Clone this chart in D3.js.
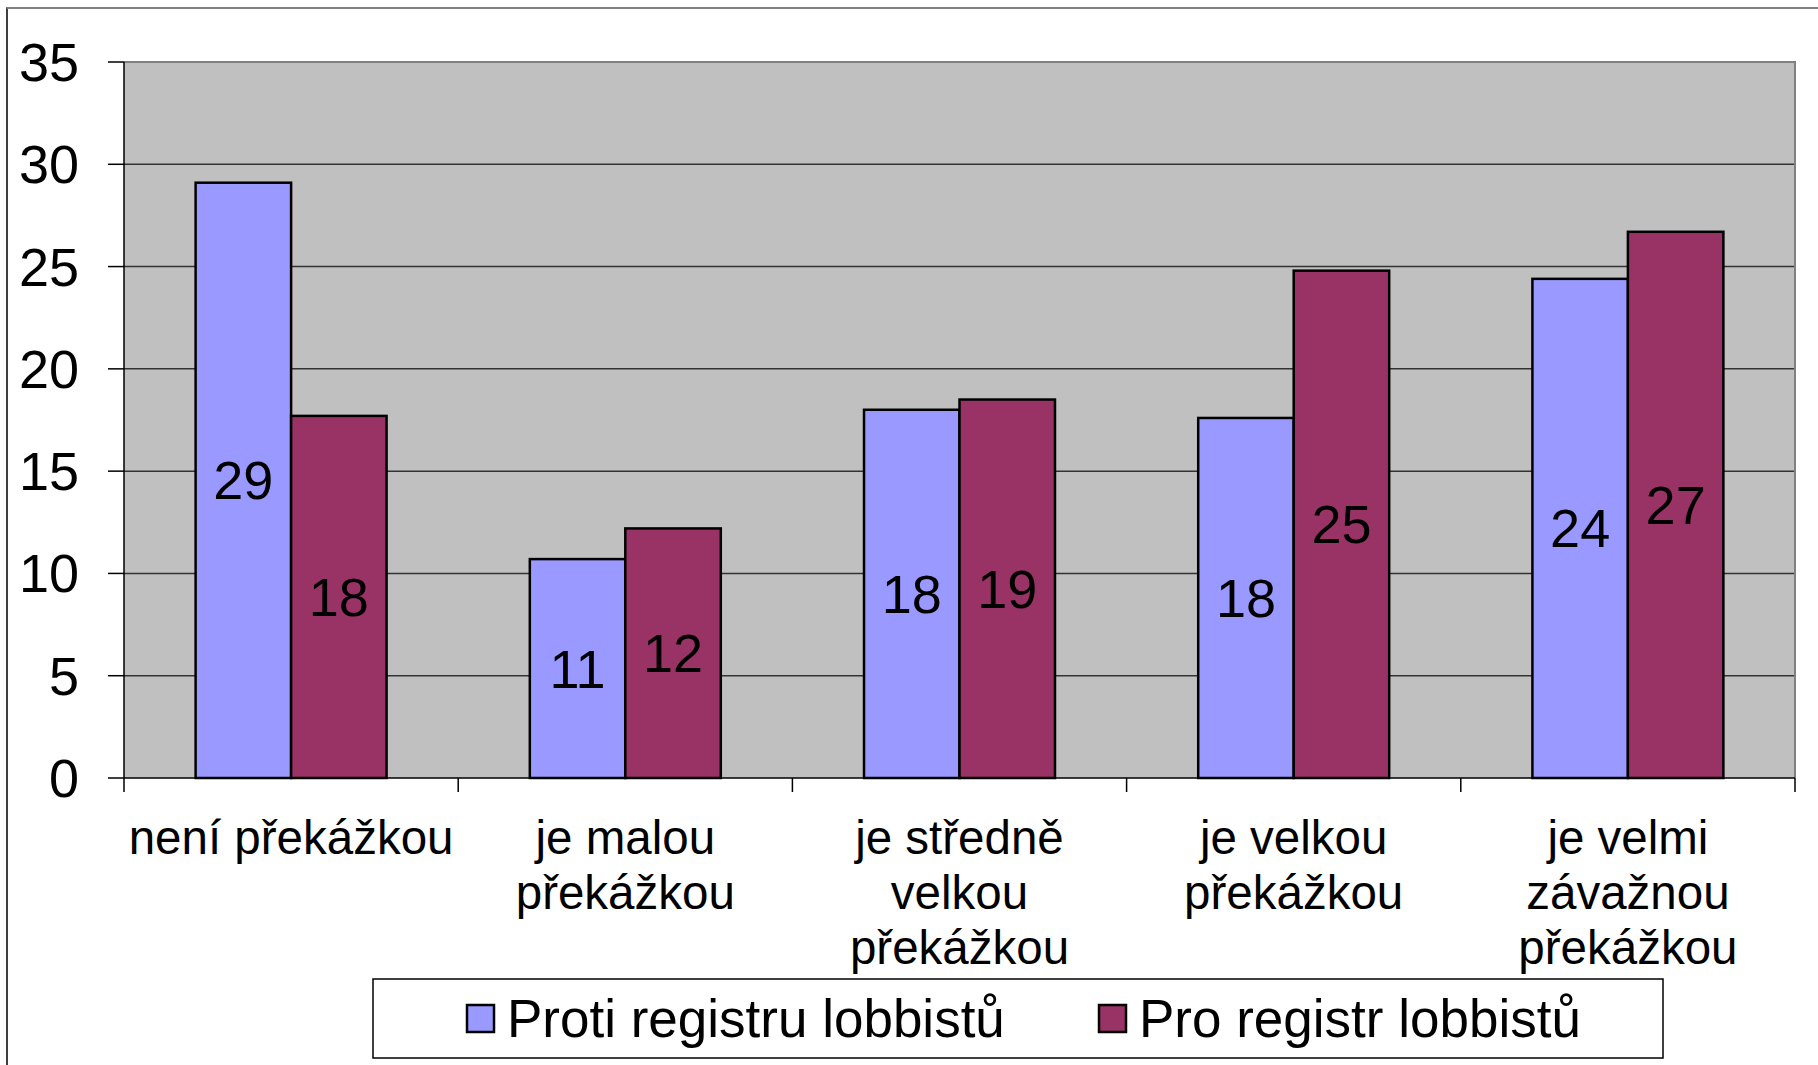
<!DOCTYPE html>
<html>
<head>
<meta charset="utf-8">
<script src="https://cdn.jsdelivr.net/npm/d3@7"></script>
<style>
  html, body { margin: 0; padding: 0; background: #fff; }
  svg { display: block; font-family: "Liberation Sans", Arial, sans-serif; }
</style>
</head>
<body>
<svg id="chart" width="1818" height="1065"></svg>
<script>
// ---- data ----
const categories = ["není překážkou", "je malou překážkou", "je středně velkou překážkou", "je velkou překážkou", "je velmi závažnou překážkou"];
const categoryLines = [
  ["není překážkou"],
  ["je malou", "překážkou"],
  ["je středně", "velkou", "překážkou"],
  ["je velkou", "překážkou"],
  ["je velmi", "závažnou", "překážkou"]
];
const seriesNames = ["Proti registru lobbistů", "Pro registr lobbistů"];
const protiValues = [29.1, 10.7, 18.0, 17.6, 24.4];
const proValues = [17.7, 12.2, 18.5, 24.8, 26.7];
const yTicks = [0, 5, 10, 15, 20, 25, 30, 35];
const seriesColors = ["#9999FF", "#993366"];

// ---- layout ----
const svg = d3.select("#chart");
const plot = { left: 124, right: 1795, top: 62, bottom: 778 };

const x0 = d3.scaleBand().domain(categories).range([plot.left, plot.right]).paddingInner(0).paddingOuter(0);
const x1 = d3.scaleBand().domain(seriesNames).range([0, x0.bandwidth()]).paddingInner(0).paddingOuter(0.75);
const y = d3.scaleLinear().domain([0, 35]).range([plot.bottom, plot.top]);
const color = d3.scaleOrdinal().domain(seriesNames).range(seriesColors);

// outer chart border (cropped on right/bottom)
svg.append("rect").attr("x", 7).attr("y", 8).attr("width", 1900).attr("height", 1200)
  .attr("fill", "none").attr("stroke", "#000").attr("stroke-width", 1.5);
svg.append("line").attr("x1", 7).attr("x2", 1818).attr("y1", 8).attr("y2", 8)
  .attr("stroke", "#808080").attr("stroke-width", 2);

// plot background
svg.append("rect").attr("x", plot.left).attr("y", plot.top)
  .attr("width", plot.right - plot.left).attr("height", plot.bottom - plot.top)
  .attr("fill", "#C0C0C0");

// gridlines
svg.append("g").selectAll("line").data(yTicks.filter(d => d > 0 && d < 35)).join("line")
  .attr("x1", plot.left).attr("x2", plot.right)
  .attr("y1", d => y(d)).attr("y2", d => y(d))
  .attr("stroke", "#333").attr("stroke-width", 1.5);

// plot border top/right
svg.append("path")
  .attr("d", `M${plot.left},${plot.top}H${plot.right}V${plot.bottom}`)
  .attr("fill", "none").attr("stroke", "#808080").attr("stroke-width", 2);

// bars
const rows = categories.map((c, i) => ({ cat: c, values: [protiValues[i], proValues[i]] }));
const groups = svg.append("g").selectAll("g").data(rows).join("g")
  .attr("transform", d => `translate(${x0(d.cat)},0)`);

groups.selectAll("rect").data(d => d.values.map((v, j) => ({ s: seriesNames[j], v }))).join("rect")
  .attr("x", d => x1(d.s))
  .attr("y", d => y(d.v))
  .attr("width", x1.bandwidth())
  .attr("height", d => y(0) - y(d.v))
  .attr("fill", d => color(d.s))
  .attr("stroke", "#000").attr("stroke-width", 2.5);

groups.selectAll("text").data(d => d.values.map((v, j) => ({ s: seriesNames[j], v }))).join("text")
  .attr("x", d => x1(d.s) + x1.bandwidth() / 2)
  .attr("y", d => (y(d.v) + y(0)) / 2)
  .attr("text-anchor", "middle")
  .attr("dominant-baseline", "central")
  .attr("font-size", 54)
  .attr("fill", "#000")
  .text(d => Math.round(d.v));

// y axis
const yAxis = svg.append("g").attr("transform", `translate(${plot.left},0)`);
yAxis.append("line").attr("x1", 0).attr("x2", 0).attr("y1", plot.top).attr("y2", plot.bottom)
  .attr("stroke", "#000").attr("stroke-width", 1.5);
yAxis.selectAll("line.tick").data(yTicks).join("line").attr("class", "tick")
  .attr("x1", -16).attr("x2", 0).attr("y1", d => y(d)).attr("y2", d => y(d))
  .attr("stroke", "#000").attr("stroke-width", 1.5);
yAxis.selectAll("text").data(yTicks).join("text")
  .attr("x", -45).attr("y", d => y(d))
  .attr("text-anchor", "end").attr("dominant-baseline", "central")
  .attr("font-size", 54).attr("fill", "#000")
  .text(d => d);

// x axis
const xAxis = svg.append("g");
xAxis.append("line").attr("x1", plot.left).attr("x2", plot.right).attr("y1", plot.bottom).attr("y2", plot.bottom)
  .attr("stroke", "#000").attr("stroke-width", 1.5);
const bounds = categories.map(c => x0(c)).concat([x0(categories[categories.length - 1]) + x0.bandwidth()]);
xAxis.selectAll("line.tick").data(bounds).join("line").attr("class", "tick")
  .attr("x1", d => d).attr("x2", d => d).attr("y1", plot.bottom).attr("y2", plot.bottom + 14)
  .attr("stroke", "#000").attr("stroke-width", 1.5);
const catText = xAxis.selectAll("text").data(categories).join("text")
  .attr("x", d => x0(d) + x0.bandwidth() / 2)
  .attr("y", 854)
  .attr("text-anchor", "middle")
  .attr("font-size", 47.5).attr("fill", "#000");
catText.each(function (d, i) {
  const t = d3.select(this);
  categoryLines[i].forEach((line, k) => {
    t.append("tspan").attr("x", x0(d) + x0.bandwidth() / 2).attr("dy", k === 0 ? 0 : 55).text(line);
  });
});

// legend
const legend = svg.append("g");
legend.append("rect").attr("x", 373).attr("y", 979).attr("width", 1290).attr("height", 79)
  .attr("fill", "#fff").attr("stroke", "#000").attr("stroke-width", 1.5);
const legendItems = [
  { s: seriesNames[0], x: 467 },
  { s: seriesNames[1], x: 1099 }
];
legendItems.forEach(it => {
  legend.append("rect").attr("x", it.x).attr("y", 1005).attr("width", 27).attr("height", 27)
    .attr("fill", color(it.s)).attr("stroke", "#000").attr("stroke-width", 2.5);
  legend.append("text").attr("x", it.x + 40).attr("y", 1018.5)
    .attr("dominant-baseline", "central").attr("font-size", 53).attr("fill", "#000")
    .text(it.s);
});
</script>
</body>
</html>
